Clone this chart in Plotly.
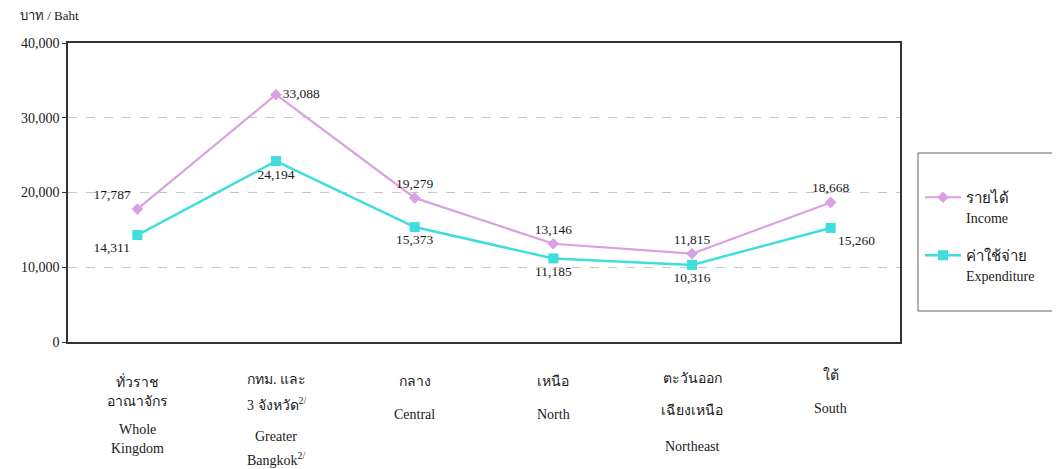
import plotly.graph_objects as go

categories_th = [["ทั่วราช", "อาณาจักร"], ["กทม. และ", "3 จังหวัด<sup>2/</sup>"], ["กลาง"], ["เหนือ"],
                 ["ตะวันออก", "เฉียงเหนือ"], ["ใต้"]]
categories_en = [["Whole", "Kingdom"], ["Greater", "Bangkok<sup>2/</sup>"], ["Central"], ["North"],
                 ["Northeast"], ["South"]]
income = [17787, 33088, 19279, 13146, 11815, 18668]
expenditure = [14311, 24194, 15373, 11185, 10316, 15260]
y_ticks = [0, 10000, 20000, 30000, 40000]
y_tick_labels = ["0", "10,000", "20,000", "30,000", "40,000"]
legend_names = ["รายได้<br><span style='font-size:14px'>Income</span>",
                "ค่าใช้จ่าย<br><span style='font-size:14px'>Expenditure</span>"]
y_title = "บาท / Baht"

FONT = "Liberation Serif, Noto Sans, DejaVu Sans, serif"
xs = list(range(len(income)))

# the page body adds an 8px margin; work in window pixels and subtract it
OFF = 8
W, H = 1060 - OFF, 469 - OFF

# layout: vertical centres (window px) of each label row, per category
row_centres_th = [[381, 401], [379, 404], [381], [381], [378, 410], [375]]
row_centres_en = [[429, 448], [436, 459], [414], [414], [446], [408]]

inc_pos = ["top left", "middle right", "top center", "top center", "top center", "top center"]
exp_pos = ["bottom left", "bottom center", "bottom center", "bottom center", "bottom center",
           "bottom right"]

fig = go.Figure()
fig.add_trace(go.Scatter(
    x=xs, y=income, mode="lines+markers+text", name=legend_names[0], legendgroup="inc",
    line=dict(color="#d9a0e4", width=2.2),
    marker=dict(symbol="diamond", size=9, color="#d9a0e4"),
    text=[f"{v:,}" for v in income], textposition=inc_pos,
    textfont=dict(family=FONT, size=13.5, color="#1a1a1a"),
))
fig.add_trace(go.Scatter(
    x=xs, y=expenditure, mode="lines+markers+text", name=legend_names[1], legendgroup="exp",
    line=dict(color="#3fdede", width=2.5),
    marker=dict(symbol="square", size=10, color="#3fdede"),
    text=[f"{v:,}" for v in expenditure], textposition=exp_pos,
    textfont=dict(family=FONT, size=13.5, color="#1a1a1a"),
))

left_px, right_px = 68, 900
top_px, bottom_px = 43, 342
pw = right_px - left_px
ph = bottom_px - top_px

def py(px):
    return (bottom_px - px) / ph

def pxx(px):
    return (px - left_px) / pw

annotations = []
for i, (th, en) in enumerate(zip(categories_th, categories_en)):
    for line, yc in zip(th, row_centres_th[i]):
        annotations.append(dict(
            x=i, y=py(yc), xref="x", yref="paper", yanchor="middle", xanchor="center",
            text=line, showarrow=False, align="center",
            font=dict(family=FONT, size=14, color="#1a1a1a")))
    for line, yc in zip(en, row_centres_en[i]):
        annotations.append(dict(
            x=i, y=py(yc), xref="x", yref="paper", yanchor="middle", xanchor="center",
            text=line, showarrow=False, align="center",
            font=dict(family=FONT, size=14, color="#1a1a1a")))
annotations.append(dict(
    x=pxx(18), y=py(15), xref="paper", yref="paper", xanchor="left", yanchor="middle",
    text=y_title, showarrow=False, font=dict(family=FONT, size=13, color="#1a1a1a")))

shapes = [dict(type="rect", xref="paper", yref="paper",
               x0=pxx(918), x1=pxx(1057), y0=py(311), y1=py(153),
               line=dict(color="#666", width=1), fillcolor="rgba(0,0,0,0)")]

fig.update_layout(
    width=W, height=H,
    margin=dict(l=left_px - OFF, r=1060 - right_px, t=top_px - OFF, b=469 - bottom_px,
                autoexpand=False),
    paper_bgcolor="white", plot_bgcolor="white",
    font=dict(family=FONT, size=14, color="#1a1a1a"),
    showlegend=True,
    legend=dict(x=pxx(920), y=py(181), xanchor="left", yanchor="top",
                borderwidth=0, bgcolor="rgba(0,0,0,0)",
                font=dict(family=FONT, size=15, color="#1a1a1a"),
                valign="top", traceorder="grouped", tracegroupgap=16, itemwidth=36,
                itemclick=False),
    annotations=annotations,
    shapes=shapes,
)
fig.update_xaxes(range=[-0.5, len(income) - 0.5], showticklabels=False, showgrid=False,
                 showline=True, linecolor="#333", linewidth=1.5, mirror=True, zeroline=False,
                 ticks="", automargin=False)
fig.update_yaxes(range=[0, 40000], tickvals=y_ticks, ticktext=y_tick_labels,
                 showgrid=True, gridcolor="#c8c8c8", griddash="dash", gridwidth=1,
                 showline=True, linecolor="#333", linewidth=1.5, mirror=True, zeroline=False,
                 ticks="outside", ticklen=4, tickcolor="#333", automargin=False,
                 tickfont=dict(family=FONT, size=14, color="#1a1a1a"))

fig.write_html("out.html")
